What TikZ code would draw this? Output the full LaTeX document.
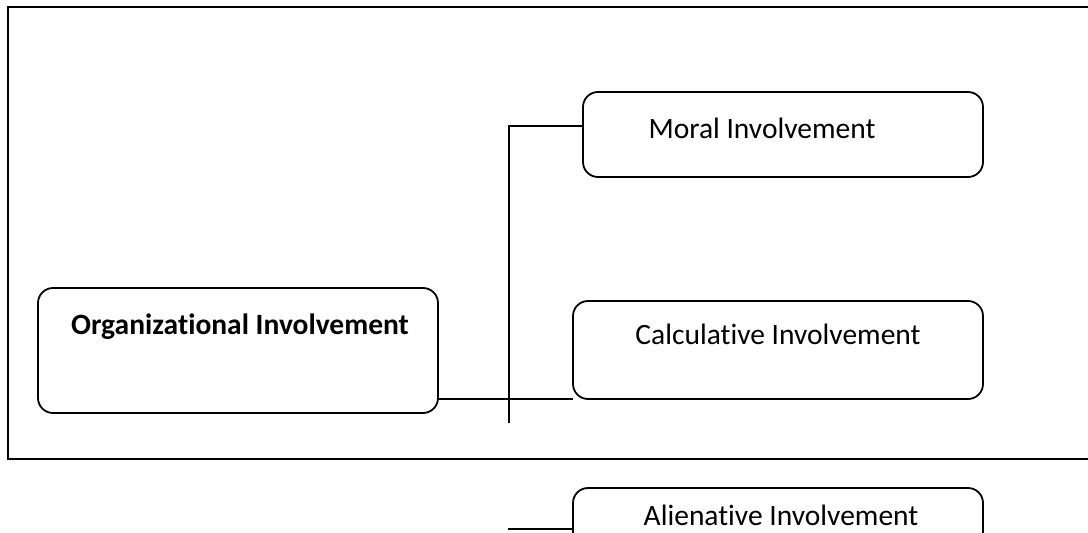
\documentclass[tikz,border=0pt]{standalone}
\usepackage{fontspec}
\setmainfont[Ligatures=NoCommon]{Carlito}
\begin{document}
\begin{tikzpicture}[x=1pt,y=-1pt,
  box/.style={draw, line width=1.8pt, rounded corners=15pt, inner sep=0pt, outer sep=0pt, anchor=north west},
  lbl/.style={font=\fontsize{29.5}{35}\selectfont, inner sep=0pt},
  conn/.style={line width=1.6pt}]
\useasboundingbox (0,0) rectangle (1088,533);
% open frame
\coordinate (f1) at (1090,7);
\coordinate (f2) at (8,7);
\coordinate (f3) at (8,459);
\coordinate (f4) at (1090,459);
\draw[line width=1.9pt] (f1) -- (f2) -- (f3) -- (f4);
% boxes
\node[box, minimum width=400pt, minimum height=125pt] (org) at (38,288) {};
\node[box, minimum width=400pt, minimum height=85pt] (moral) at (583,92) {};
\node[box, minimum width=410pt, minimum height=98pt] (calc) at (573,301) {};
\node[box, minimum width=410pt, minimum height=60pt] (alien) at (573,488) {};
% labels
\node[lbl, font=\fontsize{29.5}{35}\selectfont\bfseries] (orgt) at (240,327) {Organizational Involvement};
\node[lbl] (moralt) at (762,128) {Moral Involvement};
\node[lbl] (calct) at (778,334) {Calculative Involvement};
\node[lbl] (alient) at (781,515) {Alienative Involvement};
% connectors
\coordinate (j1) at (509,126);
\coordinate (j2) at (509,423);
\coordinate (b1) at (508,529);
\draw[conn] (j2) -- (j1) -- (j1 -| moral.west);
\draw[conn] (org.east |- calc.south) -- (calc.south west);
\draw[conn] (b1) -- (b1 -| alien.west);
\end{tikzpicture}
\end{document}
